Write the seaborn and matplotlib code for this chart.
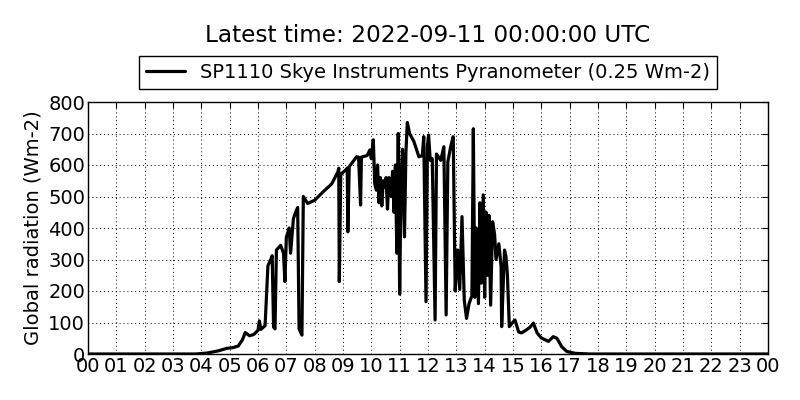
import matplotlib
matplotlib.use("Agg")
import matplotlib.pyplot as plt
import seaborn as sns
import pandas as pd

# ---- Data ----
hours = [0.0, 3.8, 4.2, 4.6, 4.9, 5.1, 5.3, 5.45, 5.55, 5.7, 5.85, 6.0, 6.05, 6.1,
         6.25, 6.35, 6.45, 6.5, 6.55, 6.6, 6.65, 6.8, 6.9, 6.95, 7.0, 7.1, 7.15,
         7.25, 7.35, 7.4, 7.45, 7.55, 7.6, 7.75, 8.0, 8.3, 8.6, 8.82, 8.85, 8.87,
         8.92, 9.1, 9.15, 9.17, 9.22, 9.48, 9.55, 9.62, 9.65, 9.85, 9.95, 10.0,
         10.07, 10.12, 10.18, 10.22, 10.27, 10.32, 10.37, 10.42, 10.47, 10.52,
         10.57, 10.62, 10.7, 10.75, 10.8, 10.85, 10.9, 10.95, 11.0, 11.05, 11.1,
         11.17, 11.22, 11.27, 11.35, 11.5, 11.68, 11.8, 11.85, 11.93, 11.98,
         12.02, 12.08, 12.15, 12.25, 12.3, 12.45, 12.56, 12.64, 12.7, 12.8,
         12.89, 12.92, 12.96, 13.05, 13.12, 13.2, 13.28, 13.36, 13.45, 13.55,
         13.6, 13.65, 13.7, 13.78, 13.83, 13.88, 13.95, 14.0, 14.05, 14.1,
         14.15, 14.21, 14.28, 14.35, 14.4, 14.5, 14.58, 14.6, 14.7, 14.75,
         14.8, 14.87, 14.95, 15.07, 15.2, 15.3, 15.45, 15.6, 15.72, 15.85,
         16.0, 16.25, 16.42, 16.55, 16.72, 16.9, 17.2, 17.7, 24.0]
radiation = [0, 0, 3, 10, 18, 20, 25, 45, 68, 58, 62, 75, 105, 78,
             90, 280, 300, 312, 85, 80, 330, 345, 320, 230, 370, 400, 320,
             430, 455, 465, 80, 60, 500, 478, 488, 515, 540, 578, 590, 230,
             570, 585, 590, 388, 595, 626, 625, 473, 625, 630, 648, 620,
             680, 540, 520, 600, 480, 560, 470, 550, 530, 560,
             460, 560, 500, 580, 450, 600, 320, 700, 190, 550, 650,
             372, 640, 735, 700, 675, 626, 630, 690, 166, 660,
             695, 615, 620, 108, 635, 615, 658, 124, 610, 658,
             690, 480, 200, 330, 205, 436, 170, 113, 160, 185,
             715, 180, 400, 160, 480, 225, 505, 180, 450, 250,
             440, 155, 420, 380, 300, 350, 277, 87, 330, 310,
             255, 87, 96, 108, 70, 67, 75, 85, 98, 67,
             51, 40, 55, 50, 23, 8, 2, 0, 0]
hour_labels = [f"{h % 24:02d}" for h in range(25)]

title = "Latest time: 2022-09-11 00:00:00 UTC"
series_name = "SP1110 Skye Instruments Pyranometer (0.25 Wm-2)"

df = pd.DataFrame({"hour": hours, "radiation": radiation})

sns.set_style("white")
plt.rcParams.update({
    "font.family": ["DejaVu Sans"],
    "text.color": "black",
    "axes.labelcolor": "black",
    "xtick.color": "black",
    "ytick.color": "black",
    "xtick.direction": "in",
    "ytick.direction": "in",
    "xtick.top": True,
    "ytick.right": True,
    "xtick.major.size": 4,
    "ytick.major.size": 4,
    "axes.edgecolor": "black",
    "axes.linewidth": 1.0,
})

fig = plt.figure(figsize=(8, 4), dpi=100)
ax = fig.add_axes([0.11, 0.115, 0.85, 0.63])

sns.lineplot(data=df, x="hour", y="radiation", color="black", linewidth=2.3,
             estimator=None, sort=False, label=series_name, ax=ax)

ax.set_xlim(0, 24)
ax.set_ylim(0, 800)
ax.set_xticks(range(25))
ax.set_xticklabels(hour_labels)
ax.set_yticks(range(0, 801, 100))
ax.tick_params(labelsize=14, color="black", labelcolor="black", pad=2)
ax.grid(True, color="black", linewidth=0.7, dashes=(1, 3))
ax.set_xlabel("")
ax.set_ylabel("Global radiation (Wm-2)", fontsize=14, color="black")
for s in ax.spines.values():
    s.set_visible(True)

leg = ax.legend(loc="lower center", bbox_to_anchor=(0.5, 1.052), fontsize=14,
                fancybox=False, edgecolor="black", framealpha=1,
                handlelength=2.0, borderpad=0.35, borderaxespad=0)
leg.get_frame().set_linewidth(1.0)
for t in leg.get_texts():
    t.set_color("black")

fig.text(0.535, 0.912, title, ha="center", va="center", fontsize=16.7,
         color="black")

fig.savefig("out.png", dpi=100, facecolor="white")
